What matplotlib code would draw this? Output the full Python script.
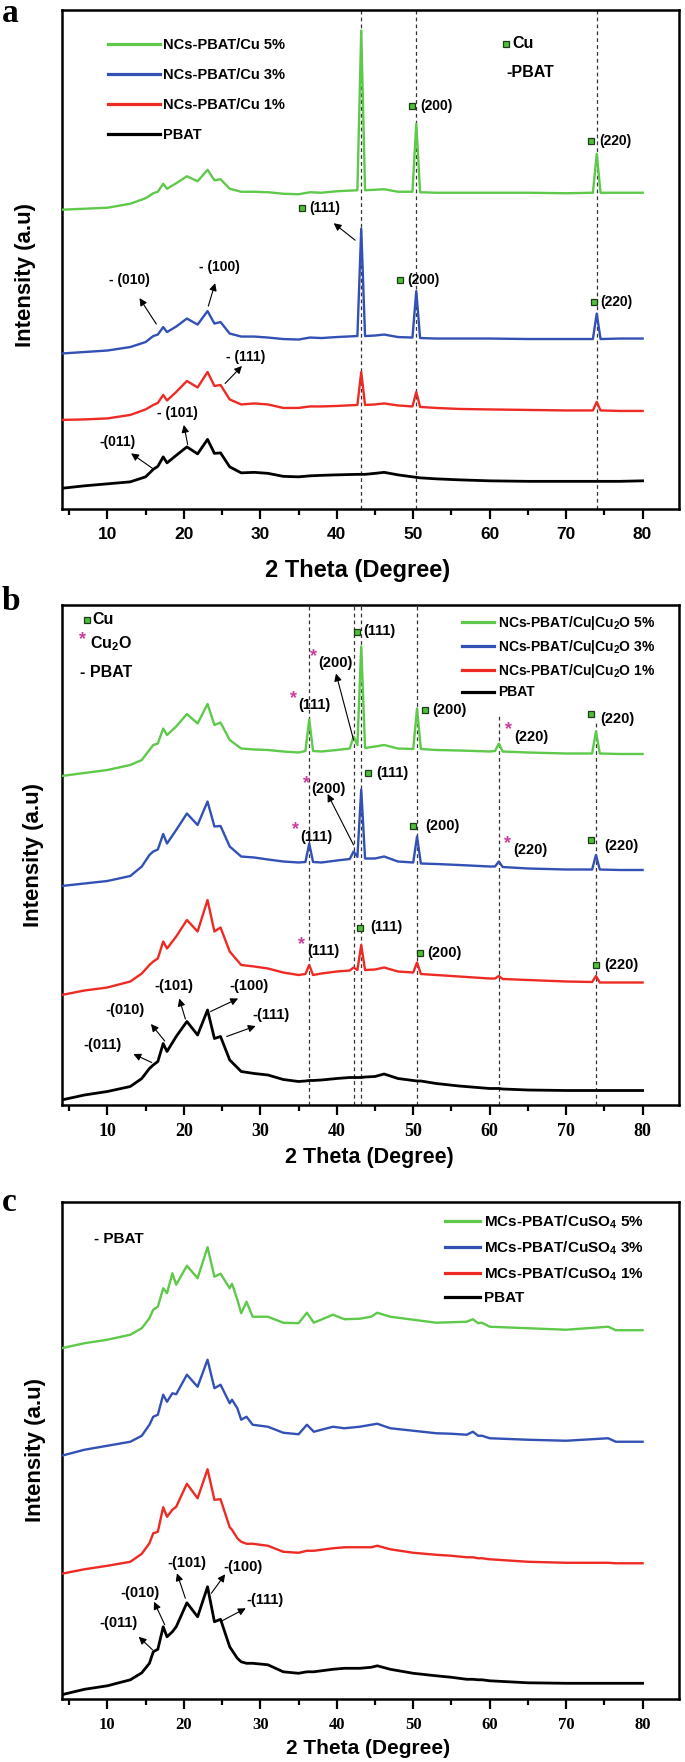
import matplotlib
matplotlib.use("Agg")
import matplotlib.pyplot as plt

plt.rcParams['font.family'] = ['Liberation Sans', 'DejaVu Sans']
plt.rcParams['font.weight'] = 'bold'
plt.rcParams['mathtext.fontset'] = 'custom'
plt.rcParams['mathtext.rm'] = 'Liberation Sans:bold'
plt.rcParams['mathtext.it'] = 'Liberation Sans:bold'
plt.rcParams['mathtext.bf'] = 'Liberation Sans:bold'
plt.rcParams['mathtext.default'] = 'rm'

# ---------------- data: panel a ----------------
theta_a = [4, 7, 10, 13, 15, 16, 16.6, 17.3, 17.8, 19, 20.4, 21.8, 23.1, 24.0, 24.8, 26, 27.5, 29.2, 31, 33,
           35, 36.5, 38, 40, 42.7, 43.2, 43.7, 45, 46.2, 48, 49.9, 50.4, 50.9, 53, 56, 60, 65, 70, 73.5, 74.0,
           74.5, 77, 80]
green_a = [60.0, 60.2, 60.4, 61.2, 62.3, 63.3, 63.6, 65.2, 64.2, 65.3, 66.7, 65.7, 68.0, 65.9, 66.1, 64.2, 63.6,
           63.6, 63.5, 63.2, 63.1, 63.5, 63.4, 63.7, 63.9, 95.9, 63.9, 64.0, 64.1, 63.6, 63.6, 77.2, 63.5, 63.4,
           63.4, 63.4, 63.4, 63.3, 63.4, 71.2, 63.4, 63.4, 63.4]
blue_a = [31.2, 31.5, 31.8, 32.5, 33.5, 34.7, 35.0, 36.5, 35.5, 36.6, 38.2, 37.0, 39.7, 37.2, 37.5, 35.2, 34.6,
          34.6, 34.4, 34.1, 34.0, 34.4, 34.3, 34.5, 34.7, 56.2, 34.7, 34.8, 35.0, 34.5, 34.4, 43.7, 34.3, 34.2,
          34.2, 34.2, 34.1, 34.1, 34.1, 39.2, 34.1, 34.2, 34.2]
red_a = [17.9, 18.0, 18.2, 18.9, 20.0, 20.9, 21.3, 22.9, 21.8, 23.5, 25.7, 24.4, 27.5, 24.7, 24.9, 22.0, 21.0,
         21.2, 21.0, 20.3, 20.3, 20.6, 20.6, 20.7, 20.9, 27.5, 20.9, 21.0, 21.2, 20.8, 20.6, 23.5, 20.5, 20.3,
         20.1, 20.0, 19.9, 19.8, 19.8, 21.5, 19.8, 19.7, 19.7]
black_a = [4.2, 4.7, 5.1, 5.5, 6.5, 8.0, 8.6, 10.5, 9.3, 10.8, 12.5, 11.1, 14.0, 11.2, 11.3, 8.5, 7.3, 7.4, 7.2,
           6.6, 6.5, 6.7, 6.8, 6.9, 7.0, 7.0, 7.0, 7.2, 7.4, 6.9, 6.5, 6.4, 6.3, 6.1, 5.9, 5.7, 5.6, 5.6, 5.6,
           5.6, 5.6, 5.6, 5.7]
labels_a = ['NCs-PBAT/Cu 5%', 'NCs-PBAT/Cu 3%', 'NCs-PBAT/Cu 1%', 'PBAT']
dash_a = [43.2, 50.4, 74.0]

# ---------------- data: panel b ----------------
theta_b = [4, 7, 10, 13, 14.5, 15.5, 16, 16.6, 17.3, 17.8, 19, 20.4, 21.8, 23.1, 24.0, 24.8, 26, 27.5, 29.2, 31,
           33, 35, 35.9, 36.4, 36.9, 38, 40, 41.7, 42.2, 42.7, 43.2, 43.7, 45, 46.2, 48, 50.0, 50.5, 51.0, 53, 56,
           60, 60.7, 61.2, 61.7, 65, 70, 73.4, 73.9, 74.4, 77, 80]
green_b = [65.8, 66.4, 67.0, 68.0, 69.0, 71.0, 72.0, 72.3, 75.3, 74.0, 75.7, 78.2, 76.3, 80.2, 76.0, 76.5, 73.0,
           71.3, 71.1, 71.0, 70.7, 70.5, 70.8, 77.1, 70.8, 70.7, 71.0, 71.3, 73.7, 72.0, 91.7, 71.4, 71.7, 72.0,
           71.3, 71.2, 79.3, 71.2, 71.0, 70.9, 70.7, 70.8, 72.3, 70.7, 70.5, 70.3, 70.3, 74.7, 70.3, 70.2, 70.2]
blue_b = [43.8, 44.3, 44.8, 45.8, 47.7, 50.0, 50.7, 51.1, 54.2, 52.3, 55.0, 58.3, 56.0, 60.7, 55.7, 55.8, 51.7,
          49.7, 49.5, 49.1, 48.7, 48.5, 48.6, 52.3, 48.6, 48.5, 48.9, 49.2, 50.7, 49.6, 63.1, 49.3, 49.3, 49.7,
          48.7, 48.5, 53.7, 48.3, 48.2, 48.0, 47.7, 47.7, 48.7, 47.6, 47.3, 47.1, 47.1, 50.0, 47.1, 47.0, 47.0]
red_b = [22.0, 22.9, 23.5, 24.7, 26.3, 28.0, 28.7, 29.3, 32.7, 31.3, 33.7, 37.0, 34.7, 41.0, 34.7, 35.5, 30.7,
         28.0, 27.7, 27.3, 26.5, 26.0, 26.2, 28.0, 26.0, 26.3, 26.7, 26.9, 27.5, 27.0, 32.0, 27.0, 27.1, 27.5,
         26.7, 26.5, 28.5, 26.2, 26.0, 25.7, 25.3, 25.3, 25.8, 25.2, 25.0, 24.7, 24.6, 25.8, 24.5, 24.5, 24.5]
black_b = [1.0, 2.0, 2.7, 3.7, 5.3, 7.3, 8.0, 8.7, 12.3, 10.7, 13.7, 16.7, 14.0, 19.0, 13.3, 13.7, 9.0, 6.7, 6.3,
           6.0, 5.1, 4.7, 4.8, 4.9, 4.9, 5.0, 5.3, 5.5, 5.5, 5.5, 5.5, 5.6, 5.7, 6.2, 5.3, 4.9, 4.8, 4.8, 4.3,
           3.8, 3.3, 3.3, 3.3, 3.2, 3.0, 2.9, 2.9, 2.9, 2.9, 2.9, 2.9]
labels_b = ['NCs-PBAT/Cu|Cu$_2$O 5%', 'NCs-PBAT/Cu|Cu$_2$O 3%', 'NCs-PBAT/Cu|Cu$_2$O 1%', 'PBAT']
dash_b = [36.4, 42.2, 43.2, 50.5, 61.2, 73.9]
dash_b_top = [100, 100, 100, 100, 78, 77]

# ---------------- data: panel c ----------------
theta_c = [4, 7, 10, 13, 14.5, 15.5, 16, 16.6, 17.3, 17.8, 18.5, 19, 20.4, 21.8, 23.1, 24.0, 24.8, 26, 26.3, 27,
           27.5, 28.2, 29, 31, 33, 35, 36.1, 37, 39.5, 41, 43, 44.5, 45.3, 47, 50, 53, 55, 57, 57.8, 58.5, 59,
           60, 65, 70, 75.5, 76.5, 80]
green_c = [70.2, 71.2, 71.9, 72.9, 74.2, 76.2, 77.9, 78.5, 82.2, 81.2, 85.2, 82.9, 86.7, 84.2, 90.4, 84.5, 85.1,
           82.2, 83.1, 79.9, 77.2, 79.5, 76.5, 76.5, 75.3, 75.2, 77.3, 75.3, 76.9, 76.0, 76.1, 76.5, 77.3, 76.5,
           75.9, 75.3, 75.4, 75.5, 76.0, 75.2, 75.3, 74.5, 74.2, 73.9, 74.5, 73.8, 73.8]
blue_c = [48.7, 49.9, 50.7, 51.5, 52.7, 54.9, 56.5, 56.9, 60.9, 59.5, 61.2, 61.0, 64.9, 62.5, 67.9, 62.2, 62.9,
          59.2, 59.9, 58.2, 55.9, 56.5, 54.9, 54.5, 53.3, 53.0, 54.9, 53.5, 54.5, 54.2, 54.5, 54.9, 55.1, 54.2,
          53.7, 53.2, 53.1, 52.9, 53.5, 52.7, 52.7, 52.2, 51.9, 51.7, 52.2, 51.5, 51.5]
red_c = [25.1, 26.0, 26.7, 27.5, 29.1, 31.2, 33.2, 33.5, 38.4, 36.5, 37.9, 38.5, 43.1, 40.2, 46.0, 39.9, 40.0,
         34.4, 33.9, 32.2, 31.5, 31.1, 31.1, 30.7, 29.5, 29.3, 29.7, 29.7, 30.2, 30.4, 30.4, 30.4, 30.7, 30.0,
         29.3, 28.9, 28.7, 28.4, 28.4, 28.2, 28.2, 28.0, 27.5, 27.3, 27.3, 27.2, 27.2]
black_c = [0.9, 2.0, 2.7, 3.9, 5.3, 7.2, 9.5, 10.0, 14.5, 12.5, 13.5, 14.5, 19.3, 16.5, 22.5, 15.5, 16.0, 10.5,
           9.8, 8.2, 7.5, 7.2, 7.2, 6.9, 5.5, 5.2, 5.5, 5.5, 6.0, 6.2, 6.2, 6.4, 6.7, 6.0, 5.2, 4.7, 4.4, 4.0,
           4.0, 3.9, 3.9, 3.7, 3.3, 3.2, 3.2, 3.2, 3.2]
labels_c = ['MCs-PBAT/CuSO$_4$ 5%', 'MCs-PBAT/CuSO$_4$ 3%', 'MCs-PBAT/CuSO$_4$ 1%', 'PBAT']

major_ticks = [10, 20, 30, 40, 50, 60, 70, 80]
minor_ticks = [5, 15, 25, 35, 45, 55, 65, 75]

# ---------------- annotations ----------------
ann_a = [("(200)", 50.9, 80.7), ("(220)", 74.3, 73.7), ("(111)", 36.4, 60.4), ("(200)", 49.2, 46.0),
         ("(220)", 74.5, 41.5), ("- (010)", 10.2, 45.9), ("- (100)", 22.0, 48.5), ("- (111)", 25.5, 30.5),
         ("- (101)", 16.5, 19.2), ("-(011)", 9.0, 13.5)]
key_a = [("Cu", 63.0, 93.2), ("-PBAT", 62.2, 87.5)]
sq_a = [(49.9, 80.7), (73.3, 73.7), (35.5, 60.4), (48.3, 46.0), (73.7, 41.5), (62.1, 93.2)]
arr_a = [((42.4, 53.9), (39.6, 57.3)), ((16.4, 37.1), (14.2, 42.3)), ((23.2, 40.7), (24.1, 45.3)),
         ((25.4, 25.2), (27.6, 28.7)), ((20.5, 13.0), (20.0, 16.9)), ((15.9, 8.2), (13.1, 11.2))]

ann_b = [("(111)", 34.9, 80.0), ("(200)", 37.6, 88.3), ("(111)", 43.5, 94.7), ("(200)", 52.5, 79.0),
         ("(220)", 63.2, 73.7), ("(220)", 74.5, 77.1), ("(200)", 36.6, 63.1), ("(111)", 45.2, 66.5),
         ("(111)", 35.2, 53.7), ("(200)", 51.6, 55.8), ("(220)", 63.1, 51.0), ("(220)", 75.0, 51.8),
         ("(111)", 36.1, 30.7), ("(111)", 44.4, 35.5), ("(200)", 51.8, 30.5), ("(220)", 75.0, 28.1),
         ("-(101)", 16.1, 23.8), ("-(100)", 26.0, 23.8), ("-(010)", 9.7, 19.0), ("-(111)", 29.0, 17.9),
         ("-(011)", 6.8, 12.1)]
key_b = [("Cu", 8.1, 97.1), ("Cu$_2$O", 7.7, 92.3), ("- PBAT", 6.4, 86.5)]
sq_b = [(7.3, 97.1), (42.7, 94.7), (51.5, 79.0), (73.3, 78.3), (44.1, 66.5), (50.0, 55.8), (73.2, 53.0),
        (43.0, 35.5), (50.9, 30.5), (73.9, 28.1)]
star_b = [(6.7, 93.0), (34.3, 81.3), (37.0, 89.7), (62.5, 75.0), (36.1, 64.3), (34.6, 55.1), (62.3, 52.2),
          (35.4, 32.0)]
arr_b = [((42.2, 73.0), (39.9, 86.3)), ((42.2, 52.0), (38.8, 62.2)), ((20.2, 17.2), (19.4, 21.3)),
         ((23.5, 18.7), (27.1, 21.3)), ((17.5, 12.8), (15.7, 16.2)), ((25.6, 13.7), (29.4, 15.8)),
         ((15.8, 8.5), (13.4, 10.2))]

ann_c = [("-(011)", 9.0, 15.2), ("-(010)", 11.7, 21.2), ("-(101)", 17.9, 27.2), ("-(100)", 25.2, 26.4),
         ("-(111)", 28.2, 19.9)]
key_c = [("- PBAT", 8.2, 92.1)]
arr_c = [((15.9, 9.9), (14.1, 12.5)), ((17.5, 14.9), (16.1, 19.5)), ((20.2, 20.2), (19.1, 25.2)),
         ((23.6, 21.2), (25.4, 25.0)), ((25.0, 15.7), (28.1, 18.2))]

colors = ['#5ec94a', '#3350b5', '#ee2a24', '#000000']
sq_face = '#4fbf3a'
star_col = '#c8409c'

W, H = 685, 1762
fig = plt.figure(figsize=(W / 100, H / 100), dpi=100)
fig.patch.set_facecolor('white')


def make_axes(top, bottom, ymax):
    left, right = 61.5, 679.3
    ax = fig.add_axes([left / W, 1 - bottom / H, (right - left) / W, (bottom - top) / H])
    ax.set_xlim(4, 84.8)
    ax.set_ylim(0, ymax)
    ax.set_yticks([])
    ax.set_xticks(major_ticks)
    ax.set_xticks(minor_ticks, minor=True)
    ax.tick_params(axis='x', which='major', direction='out', length=7, width=1.6, pad=6)
    ax.tick_params(axis='x', which='minor', direction='out', length=4, width=1.6)
    for s in ax.spines.values():
        s.set_linewidth(1.8)
    return ax


def draw_series(ax, theta, series, labels):
    handles = []
    for ys, c, lab in zip(series, colors, labels):
        lw = 2.0 if c == '#000000' else 1.7
        h, = ax.plot(theta, ys, color=c, lw=lw, label=lab, zorder=3, solid_joinstyle='round')
        handles.append(h)
    return handles


def draw_arrows(ax, arrows):
    for (tail, head) in arrows:
        ax.annotate('', xy=head, xytext=tail,
                    arrowprops=dict(arrowstyle='-|>', color='black', lw=0.8, mutation_scale=11,
                                    shrinkA=0, shrinkB=0), zorder=5)


# ================= panel a =================
axa = make_axes(10, 509.3, 100)
for x in dash_a:
    axa.axvline(x, color='#333333', lw=0.9, ls=(0, (3, 2.5)), zorder=1)
ha = draw_series(axa, theta_a, [green_a, blue_a, red_a, black_a], labels_a)
leg = axa.legend(handles=ha, loc='upper left', bbox_to_anchor=(0.0745, 0.943), frameon=False,
                 fontsize=10.5, handlelength=3.6, handletextpad=0.2, labelspacing=1.08,
                 borderpad=0, borderaxespad=0)
for l in leg.get_lines():
    l.set_linewidth(2.3)
for t, x, y in ann_a:
    axa.text(x, y, t, fontsize=10, fontweight='bold', ha='left', va='center', zorder=6)
for t, x, y in key_a:
    axa.text(x, y, t, fontsize=11.5, fontweight='bold', ha='left', va='center', zorder=6)
axa.plot([p[0] for p in sq_a], [p[1] for p in sq_a], ls='none', marker='s', ms=4.6, mfc=sq_face,
         mec='#1d3b17', mew=0.9, zorder=6)
draw_arrows(axa, arr_a)
for lbl in axa.get_xticklabels():
    lbl.set_fontsize(12.5)
    lbl.set_fontweight('bold')
axa.set_xlabel('2 Theta (Degree)', fontsize=17, fontweight='bold', va='center')
axa.xaxis.set_label_coords(0.48, -0.122)
axa.set_ylabel('Intensity (a.u)', fontsize=16, fontweight='bold', va='center')
axa.yaxis.set_label_coords(-0.059, 0.469)
fig.text(1.5 / W, 1 - 22.5 / H, 'a', fontsize=24, fontweight='bold', family='Liberation Serif',
         ha='left', va='baseline')

# ================= panel b =================
axb = make_axes(605, 1105, 100)
for x, top in zip(dash_b, dash_b_top):
    axb.vlines(x, 0, top, color='#333333', lw=0.9, linestyles=[(0, (3, 2.5))], zorder=1)
hb = draw_series(axb, theta_b, [green_b, blue_b, red_b, black_b], labels_b)
leg = axb.legend(handles=hb, loc='upper left', bbox_to_anchor=(0.648, 0.982), frameon=False,
                 fontsize=10, handlelength=2.3, handletextpad=0.3, labelspacing=0.42,
                 borderpad=0, borderaxespad=0)
for l in leg.get_lines():
    l.set_linewidth(2.3)
for t, x, y in ann_b:
    axb.text(x, y, t, fontsize=10.5, fontweight='bold', ha='left', va='center', zorder=6)
for t, x, y in key_b:
    axb.text(x, y, t, fontsize=11.5, fontweight='bold', ha='left', va='center', zorder=6)
axb.plot([p[0] for p in sq_b], [p[1] for p in sq_b], ls='none', marker='s', ms=4.6, mfc=sq_face,
         mec='#1d3b17', mew=0.9, zorder=6)
for x, y in star_b:
    axb.text(x, y, '*', fontsize=13, color=star_col, fontweight='bold', ha='center', va='center', zorder=6)
draw_arrows(axb, arr_b)
for lbl in axb.get_xticklabels():
    lbl.set_fontsize(13)
    lbl.set_fontweight('bold')
    lbl.set_fontfamily('Liberation Serif')
axb.set_xlabel('2 Theta (Degree)', fontsize=15.5, fontweight='bold', va='center')
axb.xaxis.set_label_coords(0.498, -0.104)
axb.set_ylabel('Intensity (a.u)', fontsize=16, fontweight='bold', va='center')
axb.yaxis.set_label_coords(-0.045, 0.5)
fig.text(1.5 / W, 1 - 610 / H, 'b', fontsize=24, fontweight='bold', family='Liberation Serif',
         ha='left', va='baseline')

# ================= panel c =================
axc = make_axes(1201.7, 1699.3, 99.5)
hc = draw_series(axc, theta_c, [green_c, blue_c, red_c, black_c], labels_c)
leg = axc.legend(handles=hc, loc='upper left', bbox_to_anchor=(0.621, 0.976), frameon=False,
                 fontsize=11, handlelength=2.3, handletextpad=0.25, labelspacing=0.55,
                 borderpad=0, borderaxespad=0)
for l in leg.get_lines():
    l.set_linewidth(2.3)
for t, x, y in ann_c:
    axc.text(x, y, t, fontsize=10.5, fontweight='bold', ha='left', va='center', zorder=6)
for t, x, y in key_c:
    axc.text(x, y, t, fontsize=11, fontweight='bold', ha='left', va='center', zorder=6)
draw_arrows(axc, arr_c)
for lbl in axc.get_xticklabels():
    lbl.set_fontsize(12)
    lbl.set_fontweight('bold')
    lbl.set_fontfamily('Liberation Serif')
axc.set_xlabel('2 Theta (Degree)', fontsize=15, fontweight='bold', va='center')
axc.xaxis.set_label_coords(0.497, -0.098)
axc.set_ylabel('Intensity (a.u)', fontsize=16, fontweight='bold', va='center')
axc.yaxis.set_label_coords(-0.042, 0.501)
fig.text(1.5 / W, 1 - 1211 / H, 'c', fontsize=24, fontweight='bold', family='Liberation Serif',
         ha='left', va='baseline')

fig.savefig('out.png', dpi=100, facecolor='white')
